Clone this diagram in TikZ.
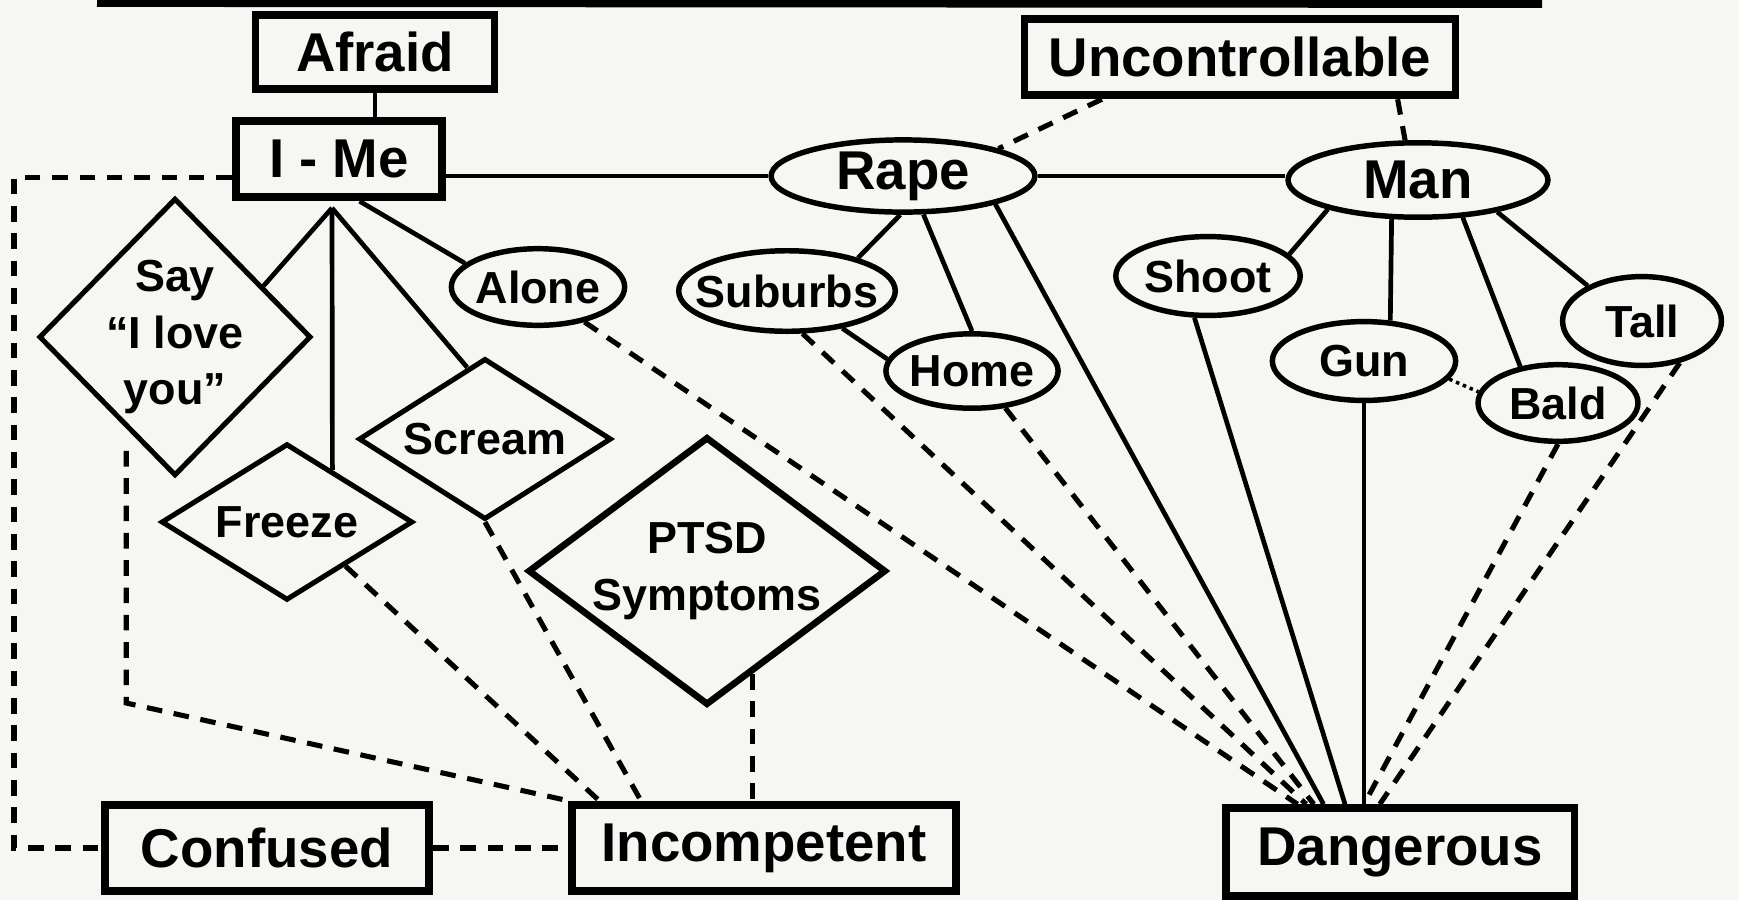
\documentclass[tikz,border=0pt]{standalone}
\usepackage{fontspec}
\setmainfont{Liberation Sans}
\usetikzlibrary{shapes.geometric}
\definecolor{paper}{RGB}{246,246,242}
\newcommand{\bigtxt}{\fontsize{28}{32}\selectfont\bfseries}
\newcommand{\smalltxt}{\fontsize{23}{29}\selectfont\bfseries}

\begin{document}
\begin{tikzpicture}[
    x=0.018cm, y=-0.018cm,
    bigbox/.style={rectangle, draw=black, line width=4pt, inner sep=2pt, font=\bigtxt},
    oval/.style={ellipse, draw=black, line width=2.8pt, inner xsep=-0.3cm, inner ysep=0pt, font=\smalltxt},
    choice/.style={diamond, draw=black, line width=2.6pt, inner xsep=-0.4cm, inner ysep=0pt, align=center, font=\smalltxt},
    link/.style={line width=2.4pt},
    dlink/.style={line width=2.6pt, dash pattern=on 8pt off 6pt},
    rule/.style={line width=4pt},
]

\fill[paper] (0,0) rectangle (1739,900);
\useasboundingbox (0,0) rectangle (1739,900);

\coordinate (rulestart) at (97,3);
\coordinate (ruleend) at (1542,4);
\draw[rule] (rulestart) -- (ruleend);

\node[bigbox, minimum width=4.3cm, minimum height=1.34cm] (afraid) at (375,52) {Afraid};
\node[bigbox, minimum width=3.72cm, minimum height=1.38cm] (ime) at (339,159) {I - Me};
\node[bigbox, minimum width=7.76cm, minimum height=1.38cm] (unc) at (1240,57) {Uncontrollable};

\node[oval, font=\bigtxt, minimum width=4.75cm, minimum height=1.3cm] (rape) at (903,176) {Rape};
\node[oval, font=\bigtxt, minimum width=4.68cm, minimum height=1.34cm] (man) at (1418,180) {Man};

\node[choice, minimum width=4.9cm, minimum height=5cm] (say) at (175,337) {Say\\“I love\\you”};
\node[choice, minimum width=4.53cm, minimum height=2.82cm] (freeze) at (287,522) {Freeze};
\node[choice, minimum width=4.55cm, minimum height=2.9cm] (scream) at (485,439) {Scream};
\node[choice, line width=3.4pt, shape aspect=1.3, minimum width=6.45cm, minimum height=4.83cm] (ptsd) at (707,571) {PTSD\\Symptoms};

\node[oval, minimum width=3.12cm, minimum height=1.38cm] (alone) at (538,287) {Alone};
\node[oval, minimum width=3.9cm, minimum height=1.45cm] (suburbs) at (787,291) {Suburbs};
\node[oval, minimum width=3.1cm, minimum height=1.34cm] (home) at (972,371) {Home};
\node[oval, minimum width=3.32cm, minimum height=1.42cm] (shoot) at (1208,276) {Shoot};
\node[oval, minimum width=3.3cm, minimum height=1.42cm] (gun) at (1364,361) {Gun};
\node[oval, minimum width=2.88cm, minimum height=1.38cm] (bald) at (1558,403) {Bald};
\node[oval, minimum width=2.86cm, minimum height=1.6cm] (tall) at (1642,321) {Tall};

\node[bigbox, minimum width=5.84cm, minimum height=1.56cm] (confused) at (267,848) {Confused};
\node[bigbox, minimum width=6.9cm, minimum height=1.56cm] (incompetent) at (764,848) {Incompetent};
\node[bigbox, minimum width=6.28cm, minimum height=1.58cm] (dangerous) at (1400,852) {Dangerous};

\coordinate (fan) at (332,208);
\coordinate (rail) at (14,0);
\coordinate (saybend) at (126,703);

\draw[link] (afraid.south) -- (afraid.south |- ime.north);
\draw[link] (rape.west -| ime.east) -- (rape.west);
\draw[link] (rape.east) -- (rape.east -| man.west);

\draw[dlink] (unc.197) -- (rape.16);
\draw[dlink] (unc.-15) -- (man.108);

\draw[link] (fan) -- (say.30);
\draw[link] (fan) -- (freeze.49);
\draw[link] (fan) -- (scream.104);
\draw[link] (ime.-64) -- (alone.162);

\draw[link] (rape.-94) -- (suburbs.25);
\draw[link] (rape.-62) -- (home.north);
\draw[link] (suburbs.-34) -- (home.172);
\draw[link] (rape.-17) -- (dangerous.148);

\draw[link] (man.198) -- (shoot.15);
\draw[link] (man.-124) -- (gun.57);
\draw[link] (man.-40) -- (bald.136);
\draw[link] (man.-22) -- (tall.147);
\draw[line width=1.8pt, dotted] (gun.-12) -- (bald.172);

\draw[link] (shoot.-108) -- (dangerous.139);
\draw[link] (gun.south) -- (gun.south |- dangerous.north);
\draw[dlink] (bald.south) -- (dangerous.127);
\draw[dlink] (tall.-48) -- (dangerous.113);
\draw[dlink] (home.-48) -- (dangerous.151);
\draw[dlink] (suburbs.-70) -- (dangerous.153);
\draw[dlink] (alone.-37) -- (dangerous.155);

\draw[dlink] (freeze.-37) -- (incompetent.164);
\draw[dlink] (scream.south) -- (incompetent.159);
\draw[dlink] (ptsd.-66) -- (ptsd.-66 |- incompetent.north);
\draw[dlink, shorten <=0.4cm] (say.-118) -- (say.-118 |- saybend) -- (incompetent.north west);

\draw[dlink] (confused.east) -- (incompetent.west);
\draw[dlink] (ime.-170) -- (ime.-170 -| rail) -- (rail |- confused.west) -- (confused.west);

\end{tikzpicture}
\end{document}
